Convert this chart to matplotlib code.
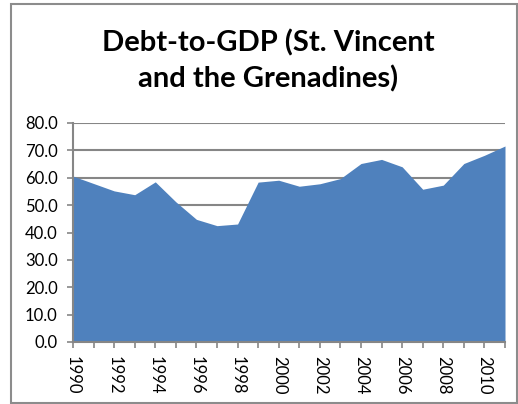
import numpy as np
import matplotlib
matplotlib.use("Agg")
import matplotlib.pyplot as plt
from matplotlib.patches import Rectangle

# Debt-to-GDP, St. Vincent and the Grenadines (% of GDP)
years = list(range(1990, 2012))
debt = [60.6, 57.9, 55.2, 53.8, 58.5, 51.2, 44.8, 42.5, 43.1, 58.4, 59.1,
        56.9, 57.8, 59.7, 65.2, 66.7, 64.0, 55.8, 57.3, 65.2, 68.2, 71.6]
yticks = [0, 10, 20, 30, 40, 50, 60, 70, 80]
xtick_years = list(range(1990, 2012, 2))

plt.rcParams["font.family"] = ["Lato", "DejaVu Sans"]

fig = plt.figure(figsize=(5.18, 4.04), dpi=100)
ax = fig.add_axes([73 / 518, 1 - 342 / 404, (505 - 73) / 518, (342 - 123) / 404])

grid_c = "#868686"
ax.fill_between(years, debt, 0, color="#4F81BD", linewidth=0, zorder=2)
ax.set_xlim(1990, 2011)
ax.set_ylim(0, 80)
ax.set_yticks(yticks)
ax.set_yticklabels([f"{v:.1f}" for v in yticks], fontsize=12)
ax.set_xticks(years)
ax.set_xticklabels([str(y) if y in xtick_years else "" for y in years],
                   rotation=270, fontsize=12)
ax.yaxis.grid(True, color=grid_c, linewidth=1.5, zorder=1)
ax.set_axisbelow(True)
for side in ["top", "right"]:
    ax.spines[side].set_visible(False)
for side in ["left", "bottom"]:
    ax.spines[side].set_color(grid_c)
    ax.spines[side].set_linewidth(1.5)
ax.tick_params(axis="both", color=grid_c, width=1.2, length=4)
ax.tick_params(axis="y", pad=7)
ax.tick_params(axis="x", pad=6)

fig.text(268 / 518, 1 - 43 / 404, "Debt-to-GDP (St. Vincent", ha="center", va="center",
         fontsize=21, fontweight="bold")
fig.text(268 / 518, 1 - 79 / 404, "and the Grenadines)", ha="center", va="center",
         fontsize=21, fontweight="bold")

fig.patches.append(Rectangle((11 / 518, 1 - 403 / 404), 506 / 518, 399 / 404,
                             transform=fig.transFigure, fill=False,
                             edgecolor="#8c8c8c", linewidth=1.5))

fig.savefig("out.png", dpi=100)
plt.close(fig)
